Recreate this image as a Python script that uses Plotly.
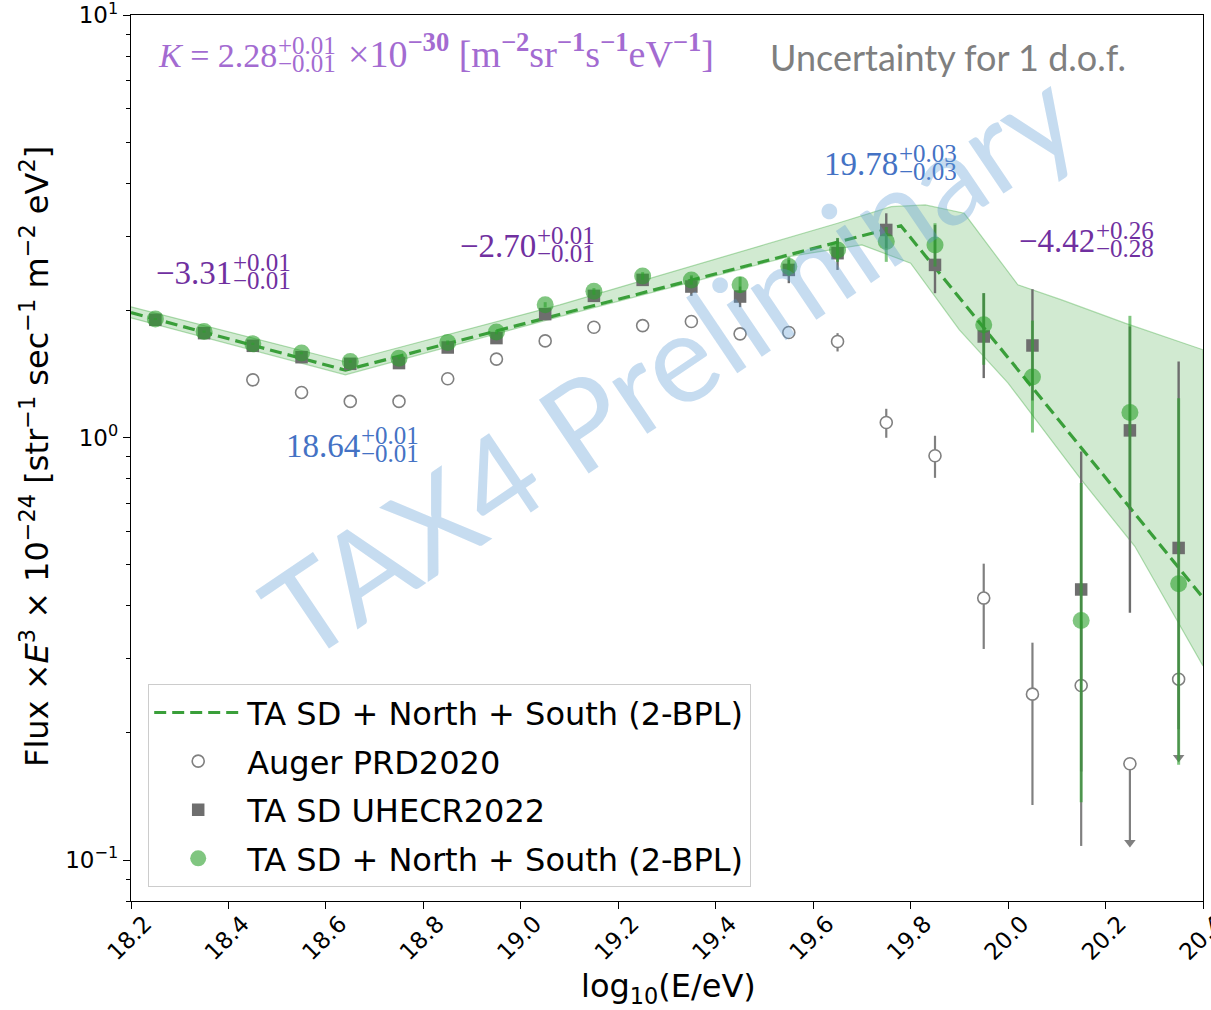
import numpy as np
import plotly.graph_objects as go

# ---------------- data ----------------
log_e = [18.25, 18.35, 18.45, 18.55, 18.65, 18.75, 18.85, 18.95, 19.05, 19.15, 19.25,
         19.35, 19.45, 19.55, 19.65, 19.75, 19.85, 19.95, 20.05, 20.15, 20.25, 20.35]

# TA SD + North + South (2-BPL) combined spectrum, E^3 J x 1e-24
tax4_flux = [1.908, 1.782, 1.667, 1.585, 1.514, 1.542, 1.679, 1.777, 2.062, 2.219, 2.414,
             2.362, 2.299, 2.540, 2.781, 2.910, 2.858, 1.849, 1.391, 0.369, 1.147, 0.451]
tax4_hi = [1.918, 1.792, 1.677, 1.595, 1.524, 1.552, 1.699, 1.797, 2.092, 2.259, 2.464,
           2.422, 2.401, 2.678, 2.969, 3.152, 3.216, 2.197, 1.892, 0.781, 1.942, 1.240]
tax4_lo = [1.898, 1.772, 1.657, 1.575, 1.504, 1.532, 1.659, 1.757, 2.032, 2.179, 2.364,
           2.302, 2.201, 2.414, 2.606, 2.606, 2.540, 1.487, 1.028, 0.137, 0.675, 0.168]

# TA SD (UHECR2022)
tasd_flux = [1.900, 1.767, 1.649, 1.550, 1.495, 1.501, 1.634, 1.720, 1.960, 2.165, 2.362,
             2.278, 2.157, 2.494, 2.732, 3.101, 2.563, 1.735, 1.652, 0.437, 1.040, 0.548]
tasd_hi = [1.910, 1.777, 1.659, 1.560, 1.505, 1.511, 1.649, 1.740, 1.985, 2.195, 2.397,
           2.405, 2.278, 2.634, 2.964, 3.396, 3.186, 2.197, 2.245, 0.927, 1.832, 1.514]
tasd_lo = [1.890, 1.757, 1.639, 1.540, 1.485, 1.491, 1.619, 1.700, 1.935, 2.135, 2.327,
           2.165, 2.036, 2.320, 2.494, 2.807, 2.197, 1.383, 1.224, 0.162, 0.385, 0.204]

# Auger (PRD 2020)
auger_e = [18.45, 18.55, 18.65, 18.75, 18.85, 18.95, 19.05, 19.15, 19.25, 19.35,
           19.45, 19.55, 19.65, 19.75, 19.85, 19.95, 20.05, 20.15]
auger_flux = [1.370, 1.279, 1.218, 1.218, 1.378, 1.534, 1.694, 1.825, 1.841, 1.883,
              1.760, 1.773, 1.688, 1.086, 0.906, 0.417, 0.247, 0.259]
auger_hi = [1.375, 1.284, 1.223, 1.223, 1.383, 1.540, 1.700, 1.835, 1.851, 1.893,
            1.775, 1.803, 1.767, 1.170, 1.010, 0.503, 0.327, 0.367]
auger_lo = [1.365, 1.274, 1.213, 1.213, 1.373, 1.528, 1.688, 1.815, 1.831, 1.873,
            1.745, 1.743, 1.599, 0.999, 0.803, 0.316, 0.135, 0.108]
# Auger upper limits (value and end of the downward arrow)
auger_ul_e = [20.25, 20.35]
auger_ul_flux = [0.169, 0.268]
auger_ul_tip = [0.110, 0.175]

# 2-BPL fit parameters
K_norm = 2.28            # x1e-30 m^-2 sr^-1 s^-1 eV^-1 at 10^18 eV
gammas = [-3.31, -2.70, -4.42]
breaks = [18.64, 19.78]
x_span = [18.2, 20.4]

# 1-d.o.f. uncertainty envelope of the fit
band_up_x = [18.2, 18.64, 19.08, 19.65, 19.76, 19.83, 19.91, 20.02, 20.11, 20.24, 20.4]
band_up_y = [2.039, 1.512, 2.062, 3.216, 3.521, 3.554, 3.396, 2.299, 2.118, 1.866, 1.614]
band_lo_x = [18.2, 18.64, 19.08, 19.55, 19.70, 19.80, 19.90, 20.00, 20.15, 20.26, 20.4]
band_lo_y = [1.920, 1.408, 1.934, 2.682, 2.858, 2.587, 1.799, 1.346, 0.795, 0.553, 0.288]

x_ticks = [18.2, 18.4, 18.6, 18.8, 19.0, 19.2, 19.4, 19.6, 19.8, 20.0, 20.2, 20.4]
y_ticks = [0.1, 1, 10]
y_ticktext = ["10<sup>−1</sup>", "10<sup>0</sup>", "10<sup>1</sup>"]
y_minor = [0.08, 0.09] + [m * 0.1 for m in range(2, 10)] + [float(m) for m in range(2, 10)]

# ---------------- fit curve ----------------
def bpl_log(lx):
    """log10 of E^3 J (x1e-24) for the broken power law."""
    lf = np.log10(K_norm)
    edges = [18.0] + breaks + [np.inf]
    for g, lo_e, hi_e in zip(gammas, edges[:-1], edges[1:]):
        seg = min(lx, hi_e) - lo_e
        if seg <= 0:
            break
        lf += (3 + g) * seg
    return lf

fit_x = [x_span[0]] + breaks + [x_span[1]]
fit_y = [10 ** bpl_log(v) for v in fit_x]

# ---------------- geometry helpers ----------------
PL, PR, PT, PB = 131, 1203, 15, 901
W, H = 1211, 1010


def px_x(px):
    return (px - PL) / (PR - PL)


def px_y(py):
    return (PB - py) / (PB - PT)


def err(vals, ends):
    return [abs(e - v) for v, e in zip(vals, ends)]


GREEN = "rgba(44,160,44,0.6)"
GREY = "#6e6e6e"
AUGER = "#808080"

fig = go.Figure()

# uncertainty band
fig.add_trace(go.Scatter(
    x=band_up_x + band_lo_x[::-1], y=band_up_y + band_lo_y[::-1],
    fill="toself", fillcolor="rgba(44,160,44,0.22)",
    line=dict(color="rgba(44,160,44,0.35)", width=1.2),
    mode="lines", showlegend=False, hoverinfo="skip"))

# fit line
fig.add_trace(go.Scatter(
    x=fit_x, y=fit_y, mode="lines", name="TA SD + North + South (2-BPL)",
    legendgroup="fit",
    line=dict(color="#3a9f3a", width=3.2, dash="12px,6px")))

# Auger
fig.add_trace(go.Scatter(
    x=auger_e, y=auger_flux, mode="markers", name="Auger PRD2020", legendgroup="auger",
    marker=dict(symbol="circle", size=12, color="white", line=dict(color=AUGER, width=1.6)),
    error_y=dict(type="data", symmetric=False,
                 array=err(auger_flux, auger_hi),
                 arrayminus=err(auger_flux, auger_lo),
                 color=AUGER, thickness=2.2, width=0)))
fig.add_trace(go.Scatter(
    x=auger_ul_e, y=auger_ul_flux, mode="markers", showlegend=False, legendgroup="auger",
    marker=dict(symbol="circle", size=12, color="white", line=dict(color=AUGER, width=1.6)),
    error_y=dict(type="data", symmetric=False, array=[0, 0],
                 arrayminus=err(auger_ul_flux, auger_ul_tip),
                 color=AUGER, thickness=2.2, width=0)))
fig.add_trace(go.Scatter(
    x=auger_ul_e, y=auger_ul_tip, mode="markers", showlegend=False, legendgroup="auger",
    marker=dict(symbol="triangle-down", size=10, color=AUGER, line=dict(width=0))))

# TA SD UHECR2022
fig.add_trace(go.Scatter(
    x=log_e, y=tasd_flux, mode="markers", name="TA SD UHECR2022", legendgroup="tasd",
    marker=dict(symbol="square", size=12.5, color=GREY, line=dict(width=0)),
    error_y=dict(type="data", symmetric=False,
                 array=err(tasd_flux, tasd_hi),
                 arrayminus=err(tasd_flux, tasd_lo),
                 color=GREY, thickness=2.4, width=0)))

# TA SD + North + South
fig.add_trace(go.Scatter(
    x=log_e, y=tax4_flux, mode="markers", name="TA SD + North + South (2-BPL)",
    legendgroup="tax4",
    marker=dict(symbol="circle", size=17, color=GREEN, line=dict(width=0)),
    error_y=dict(type="data", symmetric=False,
                 array=err(tax4_flux, tax4_hi),
                 arrayminus=err(tax4_flux, tax4_lo),
                 color=GREEN, thickness=3, width=0)))

# ---------------- text ----------------
annotations = []
SERIF = "Liberation Serif"
PURPLE = "#7030a0"
BLUE = "#4472c4"
LAVENDER = "#a36bd1"


def stacked(xj, base, main, up, down, color, size=33, small=25):
    d_main = 0.216 * size
    d_small = 0.216 * small
    common = dict(xref="paper", yref="paper", showarrow=False, borderpad=0, borderwidth=0)
    annotations.append(dict(text=main, x=px_x(xj), y=px_y(base + d_main),
                            xanchor="right", yanchor="bottom",
                            font=dict(family=SERIF, size=size, color=color), **common))
    annotations.append(dict(text=up, x=px_x(xj + 1), y=px_y(base - 13 + d_small),
                            xanchor="left", yanchor="bottom",
                            font=dict(family=SERIF, size=small, color=color), **common))
    annotations.append(dict(text=down, x=px_x(xj + 1), y=px_y(base + 5 + d_small),
                            xanchor="left", yanchor="bottom",
                            font=dict(family=SERIF, size=small, color=color), **common))


stacked(232, 283.5, "−3.31", "+0.01", "−0.01", PURPLE)
stacked(360, 456.7, "18.64", "+0.01", "−0.01", BLUE)
stacked(536, 256.7, "−2.70", "+0.01", "−0.01", PURPLE)
stacked(898, 175, "19.78", "+0.03", "−0.03", BLUE)
stacked(1095, 251.7, "−4.42", "+0.26", "−0.28", PURPLE)
stacked(277, 66.7, "<i>K</i> = 2.28", "+0.01", "−0.01", LAVENDER, size=34, small=25)

annotations.append(dict(
    text="×10<sup><b>−30</b></sup> [m<sup><b>−2</b></sup>sr<sup><b>−1</b></sup>"
         "s<sup><b>−1</b></sup>eV<sup><b>−1</b></sup>]",
    x=px_x(348), y=px_y(66.7 + 0.216 * 38), xref="paper", yref="paper",
    xanchor="left", yanchor="bottom", showarrow=False, borderpad=0, borderwidth=0,
    font=dict(family=SERIF, size=38, color=LAVENDER)))

annotations.append(dict(
    text="Uncertainty for 1 d.o.f.", x=px_x(768), y=px_y(57), xref="paper", yref="paper",
    xanchor="left", yanchor="middle", showarrow=False,
    font=dict(family="Lato", size=36, color="#7f7f7f")))

# axis titles
annotations.append(dict(
    text="Flux ×<i>E</i><sup>3</sup> × 10<sup>−24</sup> [str<sup>−1</sup> sec<sup>−1</sup> "
         "m<sup>−2</sup> eV<sup>2</sup>]",
    x=px_x(35), y=px_y(457), xref="paper", yref="paper", textangle=-90,
    xanchor="center", yanchor="middle", showarrow=False,
    font=dict(family="DejaVu Sans", size=32, color="black")))
annotations.append(dict(
    text="log<sub>10</sub>(E/eV)", x=px_x(668), y=px_y(988), xref="paper", yref="paper",
    xanchor="center", yanchor="middle", showarrow=False,
    font=dict(family="DejaVu Sans", size=32, color="black")))

# watermark
annotations.append(dict(
    text="TAX4 Preliminary", x=px_x(668), y=px_y(362), xref="paper", yref="paper",
    textangle=-34, xanchor="center", yanchor="middle", showarrow=False,
    font=dict(family="Lato", size=124, color="rgba(91,155,213,0.35)")))

fig.update_layout(
    width=W, height=H,
    margin=dict(l=PL, r=W - PR, t=PT, b=H - PB, pad=0, autoexpand=False),
    paper_bgcolor="white", plot_bgcolor="white",
    annotations=annotations,
    showlegend=True,
    legend=dict(x=px_x(148), y=px_y(684), xanchor="left", yanchor="top",
                bgcolor="rgba(255,255,255,0.85)", bordercolor="#cccccc", borderwidth=1.2,
                font=dict(family="DejaVu Sans", size=32, color="black"),
                tracegroupgap=4, itemwidth=88, traceorder="grouped"),
    xaxis=dict(range=x_span, tickmode="array", tickvals=x_ticks,
               ticktext=[f"{v:.1f}" for v in x_ticks], tickangle=-45,
               ticks="outside", ticklen=7, tickwidth=1.2, tickcolor="black",
               showline=True, mirror=True, linecolor="black", linewidth=1.3,
               showgrid=False, zeroline=False, ticklabeloverflow="allow",
               automargin=False,
               tickfont=dict(family="DejaVu Sans", size=23, color="black"),
               ticklabelshift=14, ticklabelstandoff=-8),
    yaxis=dict(type="log", range=[np.log10(0.08), 1.0003], tickmode="array",
               tickvals=y_ticks, ticktext=y_ticktext,
               ticks="outside", ticklen=7, tickwidth=1.2, tickcolor="black",
               minor=dict(tickmode="array", tickvals=y_minor, ticks="outside",
                          ticklen=4, tickwidth=1, tickcolor="black", showgrid=False),
               showline=True, mirror=True, linecolor="black", linewidth=1.3,
               showgrid=False, zeroline=False, ticklabeloverflow="allow",
               automargin=False,
               tickfont=dict(family="DejaVu Sans", size=23, color="black")),
)

fig.write_html("out.html")
